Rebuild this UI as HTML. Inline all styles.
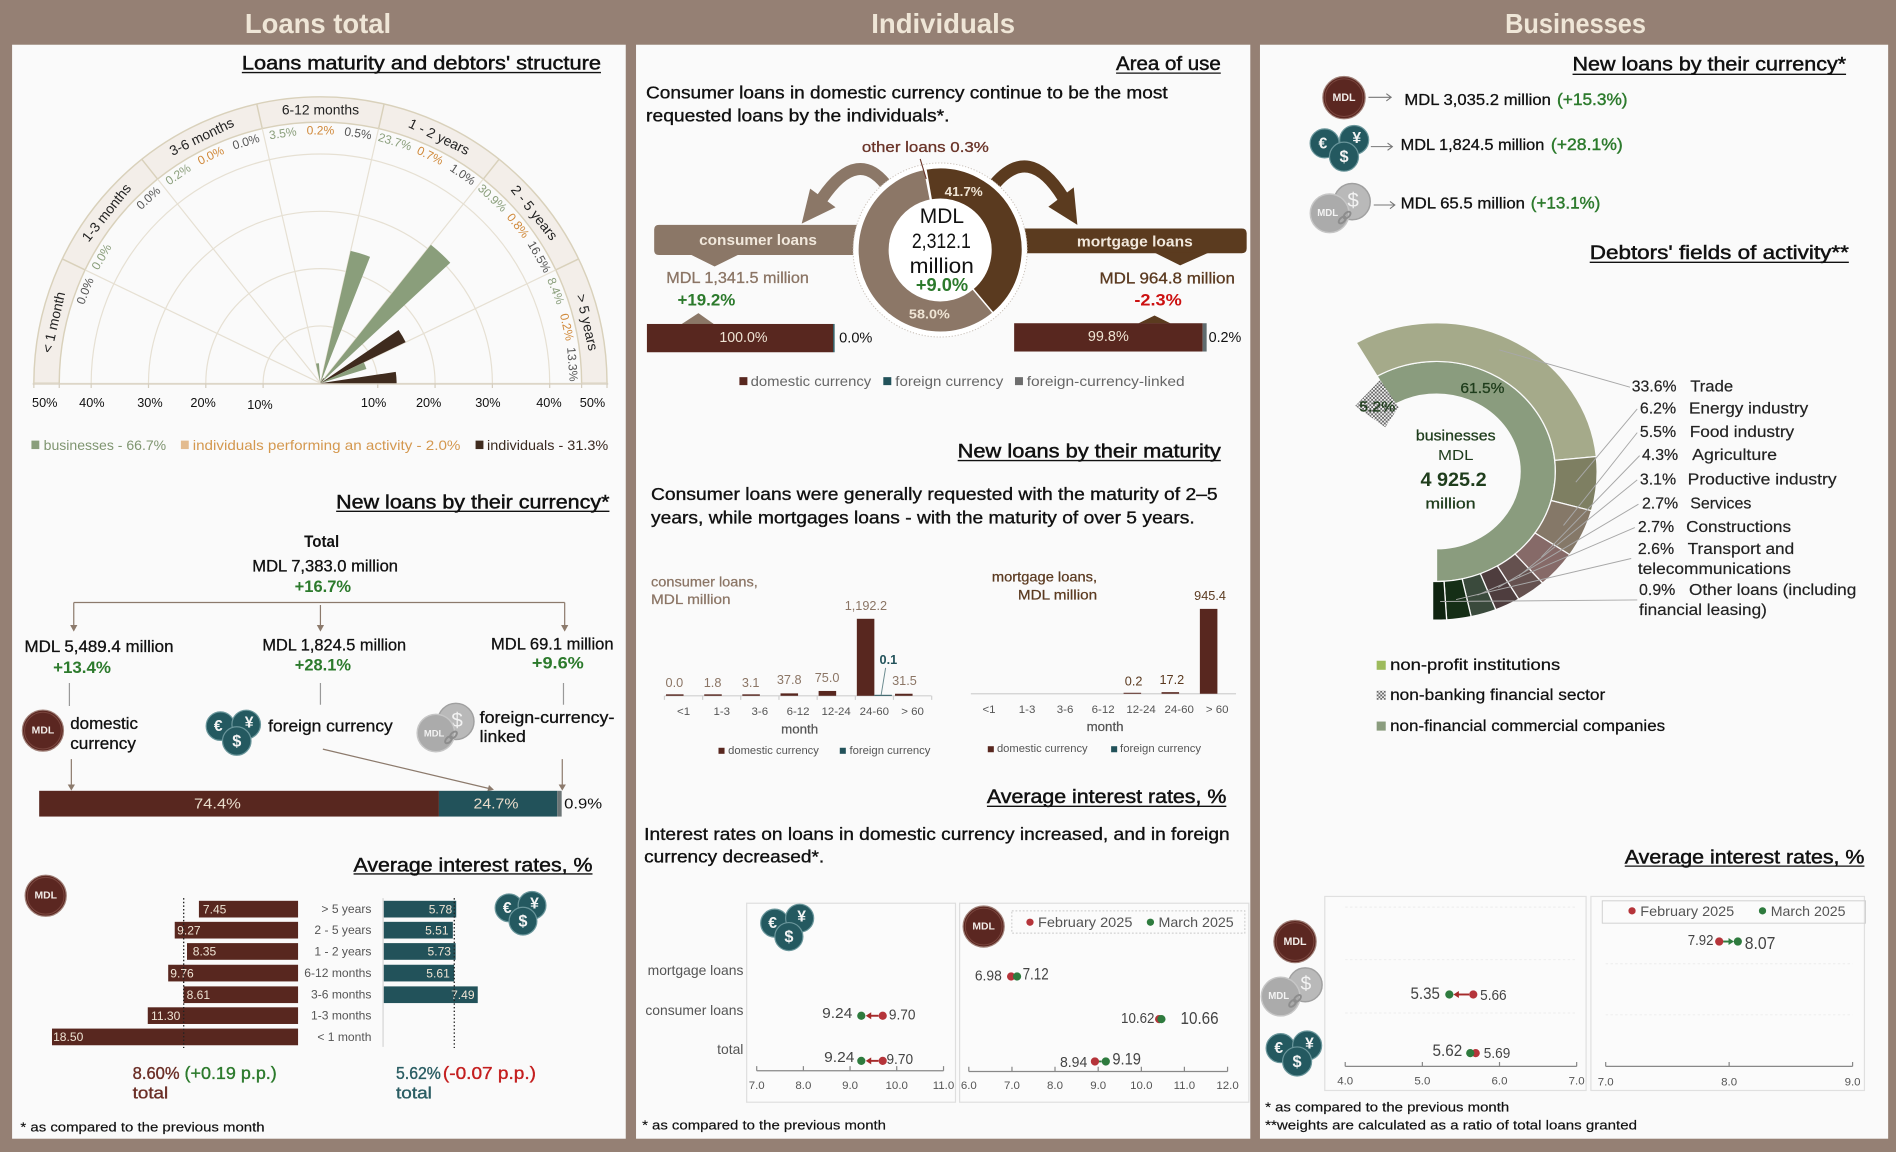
<!DOCTYPE html>
<html><head><meta charset="utf-8">
<style>
html,body{margin:0;padding:0;background:#958074;overflow:hidden}
svg{display:block}
text{font-family:"Liberation Sans",sans-serif;dominant-baseline:central}
.t{font-size:16px;fill:#111;stroke:#111;stroke-width:0.4px}
.ul{stroke:#111;stroke-width:1.1}
.p{font-size:14.5px;fill:#111;stroke:#111;stroke-width:0.3px}
</style></head><body>
<svg width="1896" height="1152" viewBox="0 0 1568 953" preserveAspectRatio="none" xmlns="http://www.w3.org/2000/svg">
<defs>
<pattern id="hatch" width="3" height="3" patternUnits="userSpaceOnUse"><rect width="3" height="3" fill="#f2f2f2"/><rect width="1.5" height="1.5" fill="#666"/><rect x="1.5" y="1.5" width="1.5" height="1.5" fill="#666"/></pattern>
</defs>
<rect width="1568" height="953" fill="#958074"/>
<rect x="10" y="37" width="507.5" height="905" fill="#fafafa"/>
<rect x="526" y="37" width="508" height="905" fill="#fafafa"/>
<rect x="1042" y="37" width="519.5" height="905" fill="#fafafa"/>

<!-- Headers -->
<text x="263" y="19.5" text-anchor="middle" font-size="23" font-weight="bold" fill="#efe6d7" textLength="121" lengthAdjust="spacingAndGlyphs">Loans total</text>
<text x="780" y="19.5" text-anchor="middle" font-size="23" font-weight="bold" fill="#efe6d7" textLength="119" lengthAdjust="spacingAndGlyphs">Individuals</text>
<text x="1303" y="19.5" text-anchor="middle" font-size="23" font-weight="bold" fill="#efe6d7" textLength="116.5" lengthAdjust="spacingAndGlyphs">Businesses</text>

<!-- Titles -->
<text class="t" x="200" y="52.5" textLength="297" lengthAdjust="spacingAndGlyphs">Loans maturity and debtors' structure</text>
<line class="ul" x1="200" y1="60" x2="497" y2="60"/>
<text class="t" x="278" y="415.5" textLength="226" lengthAdjust="spacingAndGlyphs">New loans by their currency*</text>
<line class="ul" x1="278" y1="423" x2="504" y2="423"/>
<text class="t" x="292.4" y="716" textLength="197.6" lengthAdjust="spacingAndGlyphs">Average interest rates, %</text>
<line class="ul" x1="292.4" y1="723" x2="490" y2="723"/>
<text class="t" x="923" y="53" textLength="86.6" lengthAdjust="spacingAndGlyphs">Area of use</text>
<line class="ul" x1="923" y1="60.5" x2="1009.6" y2="60.5"/>
<text class="t" x="792" y="373.5" textLength="217.6" lengthAdjust="spacingAndGlyphs">New loans by their maturity</text>
<line class="ul" x1="792" y1="381" x2="1009.6" y2="381"/>
<text class="t" x="816.2" y="659.5" textLength="198" lengthAdjust="spacingAndGlyphs">Average interest rates, %</text>
<line class="ul" x1="816.2" y1="667" x2="1014.2" y2="667"/>
<text class="t" x="1300.5" y="53.5" textLength="226.2" lengthAdjust="spacingAndGlyphs">New loans by their currency*</text>
<line class="ul" x1="1300.5" y1="61.5" x2="1526.7" y2="61.5"/>
<text class="t" x="1314.7" y="209.5" textLength="214.3" lengthAdjust="spacingAndGlyphs">Debtors' fields of activity**</text>
<line class="ul" x1="1314.7" y1="217" x2="1529" y2="217"/>
<text class="t" x="1343.7" y="709.5" textLength="198.2" lengthAdjust="spacingAndGlyphs">Average interest rates, %</text>
<line class="ul" x1="1343.7" y1="716.5" x2="1541.9" y2="716.5"/>

<!-- ============ POLAR CHART ============ -->
<path d="M28,317 A237,237 0 0 1 502,317 L481,317 A216,216 0 0 0 49,317 Z" fill="#f3eee9" stroke="#d9d1bb" stroke-width="1.2"/>
<g fill="none" stroke="#e6e0d3" stroke-width="1">
<path d="M217.6,317 A47.4,47.4 0 0 1 312.4,317"/>
<path d="M170.2,317 A94.8,94.8 0 0 1 359.8,317"/>
<path d="M122.8,317 A142.2,142.2 0 0 1 407.2,317"/>
<path d="M75.4,317 A189.6,189.6 0 0 1 454.6,317"/>
<path d="M265,317 L70.4,223.3 M265,317 L130.3,148.1 M265,317 L216.9,106.4 M265,317 L313.1,106.4 M265,317 L399.7,148.1 M265,317 L459.6,223.3"/>
</g>
<g stroke="#d9d1bb" stroke-width="1.2">
<line x1="70.4" y1="223.3" x2="51.5" y2="214.2"/>
<line x1="130.3" y1="148.1" x2="117.2" y2="131.7"/>
<line x1="216.9" y1="106.4" x2="212.3" y2="85.9"/>
<line x1="313.1" y1="106.4" x2="317.7" y2="85.9"/>
<line x1="399.7" y1="148.1" x2="412.8" y2="131.7"/>
<line x1="459.6" y1="223.3" x2="478.5" y2="214.2"/>
</g>
<line x1="27" y1="317.5" x2="503" y2="317.5" stroke="#ddd6c8" stroke-width="1.5"/>
<g stroke="#d5cebf" stroke-width="1">
<path d="M28,317 V321 M49,317 V321 M75.4,317 V321 M122.8,317 V321 M170.2,317 V321 M217.6,317 V321 M312.4,317 V321 M359.8,317 V321 M407.2,317 V321 M454.6,317 V321 M481,317 V321 M502,317 V321"/>
</g>
<path d="M265,317 L261.31,300.82 A16.6,16.6 0 0 1 263.76,300.45 Z" fill="#8a9e7b"/>
<path d="M265,317 L289.99,207.52 A112.3,112.3 0 0 1 306.02,212.46 Z" fill="#8a9e7b"/>
<path d="M265,317 L356.34,202.47 A146.5,146.5 0 0 1 372.38,217.35 Z" fill="#8a9e7b"/>
<path d="M265,317 L329.61,272.95 A78.2,78.2 0 0 1 335.46,283.07 Z" fill="#3f2b1e"/>
<path d="M265,317 L300.86,299.73 A39.8,39.8 0 0 1 303.03,305.27 Z" fill="#8a9e7b"/>
<path d="M265,317 L327.29,307.61 A63,63 0 0 1 328,317 Z" fill="#3f2b1e"/>
<path d="M265,317 L267.37,312.9 A4.74,4.74 0 0 1 267.96,313.29 Z" fill="#3f2b1e"/>

<g font-size="11.5" fill="#222" text-anchor="middle">
<text transform="translate(44.2,266.6) rotate(-77.14)">&lt; 1 month</text>
<text transform="translate(87.9,175.8) rotate(-51.43)">1-3 months</text>
<text transform="translate(166.7,112.9) rotate(-25.71)">3-6 months</text>
<text transform="translate(265,90.5)">6-12 months</text>
<text transform="translate(363.3,112.9) rotate(25.71)">1 - 2 years</text>
<text transform="translate(442.1,175.8) rotate(51.43)">2 - 5 years</text>
<text transform="translate(485.8,266.6) rotate(77.14)">&gt; 5 years</text>
</g>
<g font-size="10" text-anchor="middle">
<text transform="translate(70.4,240.7) rotate(-68.57)" fill="#555">0.0%</text>
<text transform="translate(84,212.5) rotate(-60)" fill="#8a9e7b">0.0%</text>
<text transform="translate(122.8,163.8) rotate(-42.86)" fill="#555">0.0%</text>
<text transform="translate(147.3,144.3) rotate(-34.29)" fill="#8a9e7b">0.2%</text>
<text transform="translate(174.3,128.7) rotate(-25.71)" fill="#d0893a">0.0%</text>
<text transform="translate(203.4,117.3) rotate(-17.14)" fill="#555">0.0%</text>
<text transform="translate(233.9,110.3) rotate(-8.57)" fill="#8a9e7b">3.5%</text>
<text transform="translate(265,108)" fill="#d0893a">0.2%</text>
<text transform="translate(296.1,110.3) rotate(8.57)" fill="#555">0.5%</text>
<text transform="translate(326.6,117.3) rotate(17.14)" fill="#8a9e7b">23.7%</text>
<text transform="translate(355.7,128.7) rotate(25.71)" fill="#d0893a">0.7%</text>
<text transform="translate(382.7,144.3) rotate(34.29)" fill="#555">1.0%</text>
<text transform="translate(407.2,163.8) rotate(42.86)" fill="#8a9e7b">30.9%</text>
<text transform="translate(428.4,186.7) rotate(51.43)" fill="#d0893a">0.8%</text>
<text transform="translate(446,212.5) rotate(60)" fill="#555">16.5%</text>
<text transform="translate(459.6,240.7) rotate(68.57)" fill="#8a9e7b">8.4%</text>
<text transform="translate(468.8,270.5) rotate(77.14)" fill="#d0893a">0.2%</text>
<text transform="translate(473.4,301.4) rotate(85.71)" fill="#555">13.3%</text>
</g>
<g font-size="10.5" fill="#111" text-anchor="middle">
<text x="37" y="333.5">50%</text><text x="76" y="333.5">40%</text><text x="124" y="333.5">30%</text><text x="168" y="333.5">20%</text><text x="215" y="335">10%</text>
<text x="309" y="333.5">10%</text><text x="354.5" y="333.5">20%</text><text x="403.5" y="333.5">30%</text><text x="454" y="333.5">40%</text><text x="490" y="333.5">50%</text>
</g>
<rect x="26" y="364.5" width="6.5" height="7" fill="#8a9e7b"/>
<text x="36.1" y="368" font-size="11.5" fill="#7f9570" textLength="101.3" lengthAdjust="spacingAndGlyphs">businesses - 66.7%</text>
<rect x="149.6" y="364.5" width="6.5" height="7" fill="#e3bb8e"/>
<text x="159.4" y="368" font-size="11.5" fill="#d4984f" textLength="221.4" lengthAdjust="spacingAndGlyphs">individuals performing an activity - 2.0%</text>
<rect x="393.3" y="364.5" width="6.5" height="7" fill="#3f2b1e"/>
<text x="402.8" y="368" font-size="11.5" fill="#3b2a20" textLength="100.2" lengthAdjust="spacingAndGlyphs">individuals - 31.3%</text>

<!-- ============ LEFT: NEW LOANS BY CURRENCY ============ -->
<text x="266" y="448.5" text-anchor="middle" font-size="13.5" font-weight="bold" fill="#111" textLength="29" lengthAdjust="spacingAndGlyphs">Total</text>
<text x="268.9" y="468.7" text-anchor="middle" font-size="13.5" fill="#111" stroke="#111" stroke-width="0.25" textLength="120.5" lengthAdjust="spacingAndGlyphs">MDL 7,383.0 million</text>
<text x="267" y="485.2" text-anchor="middle" font-size="14" font-weight="bold" fill="#2c7a2c" textLength="46.6" lengthAdjust="spacingAndGlyphs">+16.7%</text>
<g stroke="#8c7a6c" stroke-width="1" fill="none">
<path d="M61,498.4 H467 M61,498.4 V518 M265,500.5 V518 M467,498.4 V518"/>
</g>
<g fill="#8c7a6c">
<polygon points="58,517 64,517 61,522.5"/><polygon points="262,517 268,517 265,522.5"/><polygon points="464,517 470,517 467,522.5"/>
</g>
<text x="20.3" y="535.4" font-size="13.5" fill="#111" stroke="#111" stroke-width="0.25" textLength="123.2" lengthAdjust="spacingAndGlyphs">MDL 5,489.4 million</text>
<text x="43.9" y="552" font-size="14" font-weight="bold" fill="#2c7a2c" textLength="47.9" lengthAdjust="spacingAndGlyphs">+13.4%</text>
<text x="217" y="534" font-size="13.5" fill="#111" stroke="#111" stroke-width="0.25" textLength="118.9" lengthAdjust="spacingAndGlyphs">MDL 1,824.5 million</text>
<text x="243.8" y="550" font-size="14" font-weight="bold" fill="#2c7a2c" textLength="46.5" lengthAdjust="spacingAndGlyphs">+28.1%</text>
<text x="406.1" y="533" font-size="13.5" fill="#111" stroke="#111" stroke-width="0.25" textLength="101.3" lengthAdjust="spacingAndGlyphs">MDL 69.1 million</text>
<text x="439.9" y="548.6" font-size="14" font-weight="bold" fill="#2c7a2c" textLength="42.9" lengthAdjust="spacingAndGlyphs">+9.6%</text>
<g stroke="#999" stroke-width="1"><path d="M57.4,565 V584 M265,565 V583 M466,565 V583"/></g>
<!-- MDL coin -->
<circle cx="35.5" cy="604.4" r="17" fill="#5b2721" stroke="#a08078" stroke-width="1"/>
<circle cx="35.5" cy="604.4" r="15.2" fill="none" stroke="#7a463e" stroke-width="0.8"/>
<text x="35.5" y="604.6" text-anchor="middle" font-size="8.6" font-weight="bold" fill="#f2ece8">MDL</text>
<text x="58.1" y="598.8" font-size="13.5" fill="#111" stroke="#111" stroke-width="0.25" textLength="56" lengthAdjust="spacingAndGlyphs">domestic</text>
<text x="58.1" y="615.4" font-size="13.5" fill="#111" stroke="#111" stroke-width="0.25" textLength="54.3" lengthAdjust="spacingAndGlyphs">currency</text>
<!-- FC coins -->
<g font-weight="bold" fill="#f4f4f4" text-anchor="middle">
<circle cx="182.3" cy="600.7" r="11.8" fill="#245960" stroke="#6a969b" stroke-width="1"/>
<circle cx="203.6" cy="599.3" r="11.8" fill="#245960" stroke="#6a969b" stroke-width="1"/>
<circle cx="195.8" cy="613" r="11.8" fill="#245960" stroke="#6a969b" stroke-width="1"/>
<text x="180.5" y="601" font-size="13">€</text><text x="206" y="598" font-size="13">¥</text><text x="195.8" y="613.5" font-size="13.5">$</text>
</g>
<text x="221.8" y="600.9" font-size="13.5" fill="#111" stroke="#111" stroke-width="0.25" textLength="103" lengthAdjust="spacingAndGlyphs">foreign currency</text>
<!-- FCL coins -->
<circle cx="377" cy="596.8" r="15" fill="#b9b9b9" stroke="#a0a0a0" stroke-width="1.2"/>
<text x="378" y="596" text-anchor="middle" font-size="17" fill="#f3f3f3">$</text>
<circle cx="360.5" cy="606.4" r="15.5" fill="#ababab" stroke="#c6c6c6" stroke-width="1.2"/>
<text x="359" y="606.4" text-anchor="middle" font-size="7.8" font-weight="bold" fill="#f3f3f3">MDL</text>
<g fill="none" stroke="#8d8d8d" stroke-width="1.6"><ellipse cx="371" cy="612" rx="3.5" ry="2" transform="rotate(-45 371 612)"/><ellipse cx="375" cy="608" rx="3.5" ry="2" transform="rotate(-45 375 608)"/></g>
<text x="396.7" y="594" font-size="13.5" fill="#111" stroke="#111" stroke-width="0.25" textLength="111.4" lengthAdjust="spacingAndGlyphs">foreign-currency-</text>
<text x="396.7" y="609.8" font-size="13.5" fill="#111" stroke="#111" stroke-width="0.25" textLength="38.1" lengthAdjust="spacingAndGlyphs">linked</text>
<g stroke="#8c7a6c" stroke-width="1" fill="none"><path d="M59,628 V650 M267,619.7 L404,652.2 M465,628 V650"/></g>
<g fill="#8c7a6c"><polygon points="56,649 62,649 59,654"/><polygon points="403,654.6 404.4,649.4 408.5,653.3"/><polygon points="462,649 468,649 465,654"/></g>
<rect x="32.4" y="654.2" width="330.6" height="21.3" fill="#58271f"/>
<rect x="363" y="654.2" width="97.8" height="21.3" fill="#22525a"/>
<rect x="460.8" y="654.2" width="3.7" height="21.3" fill="#6b7576"/>
<text x="179.8" y="665" text-anchor="middle" font-size="12.5" fill="#e9dccb" textLength="38.8" lengthAdjust="spacingAndGlyphs">74.4%</text>
<text x="410.2" y="665" text-anchor="middle" font-size="12.5" fill="#e9dccb" textLength="37.2" lengthAdjust="spacingAndGlyphs">24.7%</text>
<text x="466.5" y="665" font-size="12.5" fill="#111" textLength="31.5" lengthAdjust="spacingAndGlyphs">0.9%</text>

<!-- ============ LEFT: INTEREST RATES ============ -->
<circle cx="37.8" cy="741" r="17" fill="#5b2721" stroke="#a08078" stroke-width="1"/>
<circle cx="37.8" cy="741" r="15.2" fill="none" stroke="#7a463e" stroke-width="0.8"/>
<text x="37.8" y="741.2" text-anchor="middle" font-size="8.6" font-weight="bold" fill="#f2ece8">MDL</text>
<g fill="#58271f">
<rect x="164.5" y="745.2" width="82" height="13.8"/>
<rect x="144.5" y="762.6" width="102" height="13.8"/>
<rect x="154.65" y="780.2" width="91.85" height="13.8"/>
<rect x="139.1" y="798.1" width="107.4" height="13.8"/>
<rect x="151.8" y="816" width="94.7" height="13.8"/>
<rect x="122.2" y="833.3" width="124.3" height="13.8"/>
<rect x="43" y="850.9" width="203.5" height="13.8"/>
</g>
<g font-size="10" fill="#efe4d4">
<text x="167.8" y="752.3">7.45</text><text x="146.5" y="769.7">9.27</text><text x="159.4" y="787.3">8.35</text><text x="140.8" y="805.2">9.76</text><text x="154.3" y="823.1">8.61</text><text x="124.9" y="840.4">11.30</text><text x="43.9" y="858">18.50</text>
</g>
<g font-size="10" fill="#555" text-anchor="end">
<text x="307.2" y="752.1">&gt; 5 years</text><text x="307.2" y="769.5">2 - 5 years</text><text x="307.2" y="787.1">1 - 2 years</text><text x="307.2" y="805">6-12 months</text><text x="307.2" y="822.9">3-6 months</text><text x="307.2" y="840.2">1-3 months</text><text x="307.2" y="857.8">&lt; 1 month</text>
</g>
<line x1="316.8" y1="743" x2="316.8" y2="866" stroke="#d5d5d5" stroke-width="1"/>
<g fill="#22525a">
<rect x="317.4" y="745.2" width="59.9" height="13.8"/>
<rect x="317.4" y="762.6" width="57.1" height="13.8"/>
<rect x="317.4" y="780.2" width="59.4" height="13.8"/>
<rect x="317.4" y="798.1" width="58.2" height="13.8"/>
<rect x="317.4" y="816" width="77.7" height="13.8"/>
</g>
<g font-size="10" fill="#efe4d4" text-anchor="end">
<text x="374" y="752.3">5.78</text><text x="371" y="769.7">5.51</text><text x="373" y="787.3">5.73</text><text x="372" y="805.2">5.61</text><text x="392.5" y="823.1">7.49</text>
</g>
<line x1="151.9" y1="743" x2="151.9" y2="867" stroke="#222" stroke-width="1.1" stroke-dasharray="1.2 1.8"/>
<line x1="375.7" y1="743" x2="375.7" y2="867" stroke="#222" stroke-width="1.1" stroke-dasharray="1.2 1.8"/>
<g font-weight="bold" fill="#f4f4f4" text-anchor="middle">
<circle cx="421" cy="751" r="11.5" fill="#245960" stroke="#6a969b" stroke-width="1"/>
<circle cx="440" cy="749" r="11.5" fill="#245960" stroke="#6a969b" stroke-width="1"/>
<circle cx="432.5" cy="762" r="11.5" fill="#245960" stroke="#6a969b" stroke-width="1"/>
<text x="419.5" y="751.5" font-size="13">€</text><text x="442" y="748" font-size="13">¥</text><text x="432.5" y="762.5" font-size="13.5">$</text>
</g>
<text x="109.7" y="887.7" font-size="14.5" fill="#6b2e26" stroke="#6b2e26" stroke-width="0.3" textLength="38.8" lengthAdjust="spacingAndGlyphs">8.60%</text>
<text x="152.6" y="887.7" font-size="14.5" fill="#2c7a2c" stroke="#2c7a2c" stroke-width="0.3" textLength="76.3" lengthAdjust="spacingAndGlyphs">(+0.19 p.p.)</text>
<text x="109.7" y="904.3" font-size="14" fill="#6b2e26" stroke="#6b2e26" stroke-width="0.3" textLength="29.4" lengthAdjust="spacingAndGlyphs">total</text>
<text x="327.5" y="887.7" font-size="14.5" fill="#2a5d63" stroke="#2a5d63" stroke-width="0.3" textLength="37.1" lengthAdjust="spacingAndGlyphs">5.62%</text>
<text x="366.3" y="887.7" font-size="14.5" fill="#c41e1e" stroke="#c41e1e" stroke-width="0.3" textLength="77" lengthAdjust="spacingAndGlyphs">(-0.07 p.p.)</text>
<text x="327.5" y="904.3" font-size="14" fill="#2a5d63" stroke="#2a5d63" stroke-width="0.3" textLength="29.7" lengthAdjust="spacingAndGlyphs">total</text>
<text x="16.9" y="932.4" font-size="11" fill="#111" stroke="#111" stroke-width="0.15" textLength="201.9" lengthAdjust="spacingAndGlyphs">* as compared to the previous month</text>

<!-- ============ MIDDLE: AREA OF USE ============ -->
<text class="p" x="534.3" y="76.4" textLength="431.4" lengthAdjust="spacingAndGlyphs">Consumer loans in domestic currency continue to be the most</text>
<text class="p" x="534.3" y="95.7" textLength="251" lengthAdjust="spacingAndGlyphs">requested loans by the individuals*.</text>
<text x="765.3" y="122" text-anchor="middle" font-size="12.5" fill="#6a3428" stroke="#6a3428" stroke-width="0.25" textLength="105" lengthAdjust="spacingAndGlyphs">other loans 0.3%</text>
<!-- boxes -->
<path d="M545,186 H720 V211 H545 Q541,211 541,207 V190 Q541,186 545,186 Z" fill="#8b7767"/>
<polygon points="571,210.5 611,210.5 591,220.5" fill="#8b7767"/>
<path d="M840,189 H1027 Q1031,189 1031,193 V205.5 Q1031,209.5 1027,209.5 H840 Z" fill="#5b3b1f"/>
<polygon points="954.8,209 999.6,209 976,219.5" fill="#5b3b1f"/>
<!-- arrows -->
<path d="M735,156 Q710,120 680,164" fill="none" stroke="#8b7767" stroke-width="10"/>
<polygon points="670,156 691,171.5 663,185" fill="#8b7767"/>
<path d="M822,153 Q851,118 879,163" fill="none" stroke="#5b3b1f" stroke-width="10"/>
<polygon points="888,155 867,171 891,186" fill="#5b3b1f"/>
<!-- donut -->
<circle cx="777.5" cy="206.8" r="72" fill="#fff" stroke="#c9c0b8" stroke-width="0.8" stroke-dasharray="1 1.5"/>
<path d="M765.69,139.83 A68,68 0 0 1 821.21,258.89 L804.5,238.97 A42,42 0 0 0 770.21,165.44 Z" fill="#5a3a1f" stroke="#fff" stroke-width="1.2"/>
<path d="M821.21,258.89 A68,68 0 1 1 764.52,140.05 L769.49,165.57 A42,42 0 1 0 804.5,238.97 Z" fill="#8c7767" stroke="#fff" stroke-width="1.2"/>
<line x1="761" y1="131.5" x2="766" y2="148" stroke="#6a3428" stroke-width="0.9"/>
<text x="797" y="158.5" text-anchor="middle" font-size="11" font-weight="bold" fill="#efe4d4" textLength="31.5" lengthAdjust="spacingAndGlyphs">41.7%</text>
<text x="768.6" y="259.7" text-anchor="middle" font-size="11" font-weight="bold" fill="#efe4d4" textLength="33.8" lengthAdjust="spacingAndGlyphs">58.0%</text>
<text x="779" y="179.2" text-anchor="middle" font-size="17.5" fill="#111" textLength="36.6" lengthAdjust="spacingAndGlyphs">MDL</text>
<text x="778.5" y="199.9" text-anchor="middle" font-size="17.5" fill="#111" textLength="48.8" lengthAdjust="spacingAndGlyphs">2,312.1</text>
<text x="778.8" y="220.6" text-anchor="middle" font-size="17.5" fill="#111" textLength="53.1" lengthAdjust="spacingAndGlyphs">million</text>
<text x="779" y="235.7" text-anchor="middle" font-size="15" font-weight="bold" fill="#2c7a2c" textLength="43.2" lengthAdjust="spacingAndGlyphs">+9.0%</text>
<text x="626.9" y="199.1" text-anchor="middle" font-size="12.5" font-weight="bold" fill="#f1e8dc" textLength="97.4" lengthAdjust="spacingAndGlyphs">consumer loans</text>
<text x="938.5" y="200.4" text-anchor="middle" font-size="12.5" font-weight="bold" fill="#f1e8dc" textLength="95.8" lengthAdjust="spacingAndGlyphs">mortgage loans</text>
<text x="551" y="230.2" font-size="13" fill="#8b7565" stroke="#8b7565" stroke-width="0.25" textLength="118" lengthAdjust="spacingAndGlyphs">MDL 1,341.5 million</text>
<text x="560.3" y="248.1" font-size="14" font-weight="bold" fill="#2c7a2c" textLength="47.8" lengthAdjust="spacingAndGlyphs">+19.2%</text>
<text x="909.3" y="231" font-size="13" fill="#5b3a20" stroke="#5b3a20" stroke-width="0.25" textLength="112" lengthAdjust="spacingAndGlyphs">MDL 964.8 million</text>
<text x="938.1" y="248" font-size="14" font-weight="bold" fill="#cc1111" textLength="39.2" lengthAdjust="spacingAndGlyphs">-2.3%</text>
<polygon points="563,268.5 591,268.5 577.6,259" fill="#8b7767"/>
<polygon points="941.5,267.5 968,267.5 954.8,261" fill="#5b3b1f"/>
<rect x="535" y="268" width="154" height="23.4" fill="#58271f"/>
<rect x="689" y="268" width="1.2" height="23.4" fill="#22525a"/>
<text x="614.8" y="279.5" text-anchor="middle" font-size="12" fill="#efe4d4" textLength="39.8" lengthAdjust="spacingAndGlyphs">100.0%</text>
<text x="694" y="280" font-size="12" fill="#111" textLength="27.5" lengthAdjust="spacingAndGlyphs">0.0%</text>
<rect x="838.7" y="267.4" width="155.9" height="23.4" fill="#58271f"/>
<rect x="994.6" y="267.4" width="3.3" height="23.4" fill="#5f6b6e"/>
<text x="916.6" y="279" text-anchor="middle" font-size="12" fill="#efe4d4" textLength="33.8" lengthAdjust="spacingAndGlyphs">99.8%</text>
<text x="999.5" y="279.5" font-size="12" fill="#111" textLength="27.1" lengthAdjust="spacingAndGlyphs">0.2%</text>
<rect x="611.5" y="312" width="6.6" height="6.6" fill="#58271f"/>
<text x="620.8" y="315.3" font-size="11.5" fill="#666" textLength="99.7" lengthAdjust="spacingAndGlyphs">domestic currency</text>
<rect x="730.5" y="312" width="6.6" height="6.6" fill="#22525a"/>
<text x="740.4" y="315.3" font-size="11.5" fill="#666" textLength="89.3" lengthAdjust="spacingAndGlyphs">foreign currency</text>
<rect x="839.4" y="312" width="6.6" height="6.6" fill="#6d6d6d"/>
<text x="849.1" y="315.3" font-size="11.5" fill="#666" textLength="130.6" lengthAdjust="spacingAndGlyphs">foreign-currency-linked</text>

<!-- ============ MIDDLE: MATURITY ============ -->
<text class="p" x="538.4" y="408.6" textLength="468.6" lengthAdjust="spacingAndGlyphs">Consumer loans were generally requested with the maturity of 2–5</text>
<text class="p" x="538.4" y="428" textLength="449.6" lengthAdjust="spacingAndGlyphs">years, while mortgages loans - with the maturity of over 5 years.</text>
<text x="538.4" y="481.1" font-size="11.5" fill="#8b7565" stroke="#8b7565" stroke-width="0.2" textLength="88.3" lengthAdjust="spacingAndGlyphs">consumer loans,</text>
<text x="538.4" y="495.7" font-size="11.5" fill="#8b7565" stroke="#8b7565" stroke-width="0.2" textLength="65.8" lengthAdjust="spacingAndGlyphs">MDL million</text>
<line x1="550" y1="575.6" x2="770.3" y2="575.6" stroke="#d0d0d0" stroke-width="1"/>
<path d="M549.5,575.6 V579 M581.1,575.6 V579 M612.6,575.6 V579 M644.2,575.6 V579 M675.8,575.6 V579 M707.4,575.6 V579 M738.9,575.6 V579 M770.5,575.6 V579" stroke="#d0d0d0" stroke-width="1"/>
<g fill="#58271f">
<rect x="550.8" y="574.4" width="14.5" height="1.2"/>
<rect x="582.4" y="574.4" width="14.5" height="1.2"/>
<rect x="613.9" y="574.4" width="14.5" height="1.2"/>
<rect x="645.5" y="573.6" width="14.5" height="2"/>
<rect x="677" y="571.6" width="14.5" height="4"/>
<rect x="708.6" y="511.9" width="14.5" height="63.7"/>
<rect x="740.2" y="573.9" width="14.5" height="1.7"/>
</g>
<rect x="723.1" y="574.8" width="14.5" height="0.8" fill="#22525a"/>
<line x1="732.4" y1="552.5" x2="728.7" y2="575" stroke="#6a8a8e" stroke-width="0.8"/>
<g font-size="10.5" fill="#8b7565" text-anchor="middle">
<text x="557.7" y="565.2">0.0</text><text x="589.3" y="565.2">1.8</text><text x="620.8" y="565.2">3.1</text><text x="652.7" y="562.4">37.8</text><text x="684" y="561">75.0</text><text x="716.1" y="501.2">1,192.2</text><text x="748" y="563.3">31.5</text>
</g>
<text x="734.7" y="545.9" text-anchor="middle" font-size="10.5" fill="#22525a" font-weight="bold">0.1</text>
<g font-size="9.5" fill="#555" text-anchor="middle">
<text x="565.3" y="588.9">&lt;1</text><text x="596.9" y="588.9">1-3</text><text x="628.4" y="588.9">3-6</text><text x="660" y="588.9">6-12</text><text x="691.5" y="588.9">12-24</text><text x="723.1" y="588.9">24-60</text><text x="754.7" y="588.9">&gt; 60</text>
</g>
<text x="661.3" y="603.2" text-anchor="middle" font-size="11" fill="#555" stroke="#555" stroke-width="0.2">month</text>
<rect x="594.2" y="618.6" width="5" height="5" fill="#58271f"/>
<text x="602.2" y="621.2" font-size="9.5" fill="#555" textLength="75" lengthAdjust="spacingAndGlyphs">domestic currency</text>
<rect x="694.5" y="618.6" width="5" height="5" fill="#22525a"/>
<text x="702.5" y="621.2" font-size="9.5" fill="#555" textLength="67" lengthAdjust="spacingAndGlyphs">foreign currency</text>

<text x="907.3" y="476.9" text-anchor="end" font-size="11.5" fill="#5b3a20" stroke="#5b3a20" stroke-width="0.2" textLength="87" lengthAdjust="spacingAndGlyphs">mortgage loans,</text>
<text x="907.3" y="492" text-anchor="end" font-size="11.5" fill="#5b3a20" stroke="#5b3a20" stroke-width="0.2" textLength="65.5" lengthAdjust="spacingAndGlyphs">MDL million</text>
<line x1="802.9" y1="573.9" x2="1022.2" y2="573.9" stroke="#d0d0d0" stroke-width="1"/>
<g fill="#58271f">
<rect x="929.2" y="573.1" width="14.5" height="0.8"/>
<rect x="960.6" y="572.6" width="14.5" height="1.3"/>
<rect x="992.3" y="503.7" width="14.5" height="70.2"/>
</g>
<g font-size="10.5" fill="#5b3a20" text-anchor="middle">
<text x="1000.7" y="493">945.4</text><text x="937.5" y="563.8">0.2</text><text x="969.1" y="562.4">17.2</text>
</g>
<g font-size="9.5" fill="#555" text-anchor="middle">
<text x="817.9" y="587.3">&lt;1</text><text x="849.4" y="587.3">1-3</text><text x="880.8" y="587.3">3-6</text><text x="912.3" y="587.3">6-12</text><text x="943.7" y="587.3">12-24</text><text x="975.2" y="587.3">24-60</text><text x="1006.6" y="587.3">&gt; 60</text>
</g>
<text x="913.9" y="601" text-anchor="middle" font-size="11" fill="#555" stroke="#555" stroke-width="0.2">month</text>
<rect x="816.9" y="617.3" width="5" height="5" fill="#58271f"/>
<text x="824.5" y="619.8" font-size="9.5" fill="#555" textLength="75" lengthAdjust="spacingAndGlyphs">domestic currency</text>
<rect x="918.9" y="617.3" width="5" height="5" fill="#22525a"/>
<text x="926.3" y="619.8" font-size="9.5" fill="#555" textLength="67" lengthAdjust="spacingAndGlyphs">foreign currency</text>

<!-- ============ MIDDLE: INTEREST RATES ============ -->
<text class="p" x="532.7" y="689.8" textLength="484.2" lengthAdjust="spacingAndGlyphs">Interest rates on loans in domestic currency increased, and in foreign</text>
<text class="p" x="532.7" y="708.6" textLength="148.9" lengthAdjust="spacingAndGlyphs">currency decreased*.</text>
<rect x="617.5" y="747.2" width="172.7" height="164.6" fill="#fbfbfb" stroke="#dedede" stroke-width="1"/>
<rect x="793.6" y="747.2" width="239.2" height="164.6" fill="#fbfbfb" stroke="#dedede" stroke-width="1"/>
<g font-weight="bold" fill="#f4f4f4" text-anchor="middle">
<circle cx="640.7" cy="763.7" r="11.6" fill="#245960" stroke="#6a969b" stroke-width="1"/>
<circle cx="661.3" cy="759.6" r="11.6" fill="#245960" stroke="#6a969b" stroke-width="1"/>
<circle cx="652.4" cy="774.8" r="11.6" fill="#245960" stroke="#6a969b" stroke-width="1"/>
<text x="639" y="764" font-size="13">€</text><text x="663" y="758.5" font-size="13">¥</text><text x="652.4" y="775.3" font-size="13.5">$</text>
</g>
<g font-size="11.5" fill="#555" text-anchor="end">
<text x="614.8" y="802.3">mortgage loans</text><text x="614.8" y="835.4">consumer loans</text><text x="614.8" y="867.9">total</text>
</g>
<line x1="625.8" y1="885.8" x2="780.3" y2="885.8" stroke="#888" stroke-width="1"/>
<path d="M625.8,885.8 V882 M664.4,885.8 V882 M703,885.8 V882 M741.6,885.8 V882 M780.3,885.8 V882" stroke="#888" stroke-width="1"/>
<g font-size="9.5" fill="#555" text-anchor="middle">
<text x="625.8" y="898.2">7.0</text><text x="664.4" y="898.2">8.0</text><text x="703" y="898.2">9.0</text><text x="741.6" y="898.2">10.0</text><text x="780.3" y="898.2">11.0</text>
</g>
<line x1="726.5" y1="840.3" x2="719" y2="840.3" stroke="#a52a2a" stroke-width="1.6"/>
<polygon points="716,840.3 720.5,837.4 720.5,843.2" fill="#a52a2a"/>
<line x1="726.5" y1="877.6" x2="719" y2="877.6" stroke="#a52a2a" stroke-width="1.6"/>
<polygon points="716,877.6 720.5,874.7 720.5,880.5" fill="#a52a2a"/>
<circle cx="712.3" cy="840.3" r="3.4" fill="#2e7b3e"/><circle cx="730" cy="840.3" r="3.4" fill="#b5343a"/>
<circle cx="712.3" cy="877.6" r="3.4" fill="#2e7b3e"/><circle cx="730" cy="877.6" r="3.4" fill="#b5343a"/>
<g font-size="12" fill="#444">
<text x="679.9" y="838.9" textLength="25" lengthAdjust="spacingAndGlyphs">9.24</text><text x="735.1" y="840" textLength="22" lengthAdjust="spacingAndGlyphs">9.70</text>
<text x="681.6" y="875.3" textLength="25" lengthAdjust="spacingAndGlyphs">9.24</text><text x="733.1" y="877" textLength="22" lengthAdjust="spacingAndGlyphs">9.70</text>
</g>
<circle cx="813.5" cy="766.5" r="17" fill="#5b2721" stroke="#a08078" stroke-width="1"/>
<circle cx="813.5" cy="766.5" r="15.2" fill="none" stroke="#7a463e" stroke-width="0.8"/>
<text x="813.5" y="766.7" text-anchor="middle" font-size="8.6" font-weight="bold" fill="#f2ece8">MDL</text>
<rect x="836.8" y="753.5" width="192.7" height="18.4" fill="none" stroke="#c8c8c8" stroke-width="0.8" stroke-dasharray="1.5 1.5"/>
<circle cx="851.8" cy="762.9" r="3" fill="#b5343a"/>
<text x="858.4" y="762.9" font-size="11.5" fill="#555" textLength="78.1" lengthAdjust="spacingAndGlyphs">February 2025</text>
<circle cx="951.4" cy="762.9" r="3" fill="#2e7b3e"/>
<text x="958.1" y="762.9" font-size="11.5" fill="#555" textLength="62.2" lengthAdjust="spacingAndGlyphs">March 2025</text>
<line x1="801.2" y1="886.4" x2="1015.2" y2="886.4" stroke="#888" stroke-width="1"/>
<path d="M801.2,886.4 V882.5 M836.9,886.4 V882.5 M872.5,886.4 V882.5 M908.2,886.4 V882.5 M943.9,886.4 V882.5 M979.5,886.4 V882.5 M1015.2,886.4 V882.5" stroke="#888" stroke-width="1"/>
<g font-size="9.5" fill="#555" text-anchor="middle">
<text x="801.2" y="898.5">6.0</text><text x="836.9" y="898.5">7.0</text><text x="872.5" y="898.5">8.0</text><text x="908.2" y="898.5">9.0</text><text x="943.9" y="898.5">10.0</text><text x="979.5" y="898.5">11.0</text><text x="1015.2" y="898.5">12.0</text>
</g>
<line x1="907.5" y1="878.1" x2="911" y2="878.1" stroke="#2e7b3e" stroke-width="1.5"/>
<circle cx="836.2" cy="807.8" r="3.4" fill="#b5343a"/><circle cx="841.1" cy="807.8" r="3.4" fill="#2e7b3e"/>
<circle cx="958.6" cy="843.1" r="3.4" fill="#b5343a"/><circle cx="960.5" cy="843.1" r="3.4" fill="#2e7b3e"/>
<circle cx="905.5" cy="878.1" r="3.4" fill="#b5343a"/><circle cx="914.5" cy="878.1" r="3.4" fill="#2e7b3e"/>
<g font-size="12" fill="#444">
<text x="806.2" y="808" textLength="22.3" lengthAdjust="spacingAndGlyphs">6.98</text><text x="845.7" y="806" font-size="13.5" textLength="21.6" lengthAdjust="spacingAndGlyphs">7.12</text>
<text x="927.1" y="843" textLength="27.6" lengthAdjust="spacingAndGlyphs">10.62</text><text x="976.3" y="842" font-size="14.5" textLength="31.5" lengthAdjust="spacingAndGlyphs">10.66</text>
<text x="876.6" y="879.5" textLength="22.6" lengthAdjust="spacingAndGlyphs">8.94</text><text x="919.9" y="876.5" font-size="13.5" textLength="23.7" lengthAdjust="spacingAndGlyphs">9.19</text>
</g>
<text x="531" y="930.5" font-size="11" fill="#111" stroke="#111" stroke-width="0.15" textLength="201.7" lengthAdjust="spacingAndGlyphs">* as compared to the previous month</text>

<!-- ============ RIGHT: NEW LOANS BY CURRENCY ============ -->
<circle cx="1111.5" cy="80.8" r="17.5" fill="#5b2721" stroke="#a08078" stroke-width="1"/>
<circle cx="1111.5" cy="80.8" r="15.6" fill="none" stroke="#7a463e" stroke-width="0.8"/>
<text x="1111.5" y="81" text-anchor="middle" font-size="8.8" font-weight="bold" fill="#f2ece8">MDL</text>
<g font-weight="bold" fill="#f4f4f4" text-anchor="middle">
<circle cx="1095.5" cy="118.6" r="12" fill="#245960" stroke="#6a969b" stroke-width="1"/>
<circle cx="1119.9" cy="115.8" r="12" fill="#245960" stroke="#6a969b" stroke-width="1"/>
<circle cx="1111.5" cy="129.6" r="12" fill="#245960" stroke="#6a969b" stroke-width="1"/>
<text x="1094" y="119" font-size="13">€</text><text x="1122" y="114.5" font-size="13">¥</text><text x="1111.5" y="130" font-size="13.5">$</text>
</g>
<circle cx="1118.2" cy="166.8" r="15" fill="#b9b9b9" stroke="#a0a0a0" stroke-width="1.2"/>
<text x="1119" y="166" text-anchor="middle" font-size="17" fill="#f3f3f3">$</text>
<circle cx="1099.6" cy="176.5" r="16" fill="#ababab" stroke="#c6c6c6" stroke-width="1.2"/>
<text x="1098" y="176.5" text-anchor="middle" font-size="8" font-weight="bold" fill="#f3f3f3">MDL</text>
<g fill="none" stroke="#8d8d8d" stroke-width="1.6"><ellipse cx="1110" cy="182" rx="3.5" ry="2" transform="rotate(-45 1110 182)"/><ellipse cx="1114" cy="178" rx="3.5" ry="2" transform="rotate(-45 1114 178)"/></g>
<g stroke="#777" stroke-width="0.9" fill="none">
<path d="M1131.7,80.5 H1150 M1146.5,77.5 L1150.5,80.5 L1146.5,83.5"/>
<path d="M1133.7,121.3 H1151 M1147.5,118.3 L1151.5,121.3 L1147.5,124.3"/>
<path d="M1136.1,169.6 H1153 M1149.5,166.6 L1153.5,169.6 L1149.5,172.6"/>
</g>
<text x="1161.4" y="83.3" font-size="13" fill="#111" stroke="#111" stroke-width="0.25" textLength="121.2" lengthAdjust="spacingAndGlyphs">MDL 3,035.2 million</text>
<text x="1287.7" y="82.5" font-size="14" fill="#2c7a2c" stroke="#2c7a2c" stroke-width="0.35" textLength="58.3" lengthAdjust="spacingAndGlyphs">(+15.3%)</text>
<text x="1158.3" y="120.5" font-size="13" fill="#111" stroke="#111" stroke-width="0.25" textLength="118.9" lengthAdjust="spacingAndGlyphs">MDL 1,824.5 million</text>
<text x="1282.6" y="119.5" font-size="14" fill="#2c7a2c" stroke="#2c7a2c" stroke-width="0.35" textLength="59.4" lengthAdjust="spacingAndGlyphs">(+28.1%)</text>
<text x="1158.3" y="168.7" font-size="13" fill="#111" stroke="#111" stroke-width="0.25" textLength="102.9" lengthAdjust="spacingAndGlyphs">MDL 65.5 million</text>
<text x="1266" y="168" font-size="14" fill="#2c7a2c" stroke="#2c7a2c" stroke-width="0.35" textLength="57.5" lengthAdjust="spacingAndGlyphs">(+13.1%)</text>

<!-- ============ RIGHT: SUNBURST ============ -->
<g transform="translate(1188,390) scale(1.08,1)" stroke="#fafafa" stroke-width="1">
<path d="M-45.5,-78.81 A91,91 0 1 1 0,91 L0,64 A64,64 0 1 0 -32,-55.43 Z" fill="#8a9c7e"/>
<path d="M-45.5,-78.81 L-61.5,-106.52 A123,123 0 0 1 122.38,-12.34 L90.54,-9.13 A91,91 0 0 0 -45.5,-78.81 Z" fill="#a5aa8a"/>
<path d="M90.54,-9.13 L122.38,-12.34 A123,123 0 0 1 118.63,32.5 L87.76,24.04 A91,91 0 0 0 90.54,-9.13 Z" fill="#7e7f62"/>
<path d="M87.76,24.04 L118.63,32.5 A123,123 0 0 1 101.93,68.85 L75.41,50.94 A91,91 0 0 0 87.76,24.04 Z" fill="#857868"/>
<path d="M75.41,50.94 L101.93,68.85 A123,123 0 0 1 81.26,92.33 L60.12,68.31 A91,91 0 0 0 75.41,50.94 Z" fill="#866a68"/>
<path d="M60.12,68.31 L81.26,92.33 A123,123 0 0 1 62.99,105.65 L46.6,78.16 A91,91 0 0 0 60.12,68.31 Z" fill="#65514f"/>
<path d="M46.6,78.16 L62.99,105.65 A123,123 0 0 1 45.35,114.33 L33.56,84.59 A91,91 0 0 0 46.6,78.16 Z" fill="#4e3d3e"/>
<path d="M33.56,84.59 L45.35,114.33 A123,123 0 0 1 26.54,120.1 L19.64,88.86 A91,91 0 0 0 33.56,84.59 Z" fill="#3a4a3c"/>
<path d="M19.64,88.86 L26.54,120.1 A123,123 0 0 1 7.77,122.75 L5.75,90.82 A91,91 0 0 0 19.64,88.86 Z" fill="#152e16"/>
<path d="M5.75,90.82 L7.77,122.75 A123,123 0 0 1 -3,123 L-3,91 A91,91 0 0 0 5.75,90.82 Z" fill="#0f2410"/>
</g>
<polygon points="1141.4,314.3 1120.8,335.8 1145.6,353.4 1156.6,336.9" fill="url(#hatch)"/>
<g stroke="#a8a8a8" stroke-width="0.8" fill="none">
<path d="M1348,320.3 L1240,289.5"/>
<path d="M1354,338.3 L1303.2,398.9"/>
<path d="M1354,357.9 L1293,434.7"/>
<path d="M1356,376.9 L1274.8,460.7"/>
<path d="M1354,397 L1256.1,476.5"/>
<path d="M1355,417.1 L1239.1,486"/>
<path d="M1352,436.4 L1221.9,492.3"/>
<path d="M1349,462 L1204.2,496"/>
<path d="M1354,496.3 L1191,497.6"/>
</g>
<text x="1226" y="321.2" text-anchor="middle" font-size="12.5" fill="#1f3d1c" stroke="#1f3d1c" stroke-width="0.25" textLength="36.5" lengthAdjust="spacingAndGlyphs">61.5%</text>
<text x="1139" y="336.6" text-anchor="middle" font-size="12.5" fill="#1f3d1c" stroke="#1f3d1c" stroke-width="0.25" textLength="29.7" lengthAdjust="spacingAndGlyphs">5.2%</text>
<text x="1203.9" y="360.6" text-anchor="middle" font-size="12.5" fill="#1f3d1c" stroke="#1f3d1c" stroke-width="0.25" textLength="66" lengthAdjust="spacingAndGlyphs">businesses</text>
<text x="1203.9" y="376.9" text-anchor="middle" font-size="12.5" fill="#1f3d1c" textLength="29.4" lengthAdjust="spacingAndGlyphs">MDL</text>
<text x="1202.1" y="396.9" text-anchor="middle" font-size="16" font-weight="bold" fill="#1f3d1c" textLength="54.7" lengthAdjust="spacingAndGlyphs">4 925.2</text>
<text x="1199.6" y="417.1" text-anchor="middle" font-size="12.5" fill="#1f3d1c" stroke="#1f3d1c" stroke-width="0.25" textLength="41.5" lengthAdjust="spacingAndGlyphs">million</text>
<g font-size="13" fill="#222" stroke="#222" stroke-width="0.15">
<text x="1349.5" y="320.3" textLength="37" lengthAdjust="spacingAndGlyphs">33.6%</text>
<text x="1397.8" y="320.3" textLength="35.5" lengthAdjust="spacingAndGlyphs">Trade</text>
<text x="1356.2" y="338.3" textLength="30" lengthAdjust="spacingAndGlyphs">6.2%</text>
<text x="1396.8" y="338.3" textLength="98.6" lengthAdjust="spacingAndGlyphs">Energy industry</text>
<text x="1356.2" y="357.9" textLength="30" lengthAdjust="spacingAndGlyphs">5.5%</text>
<text x="1397.4" y="357.9" textLength="86.4" lengthAdjust="spacingAndGlyphs">Food industry</text>
<text x="1357.9" y="376.9" textLength="30" lengthAdjust="spacingAndGlyphs">4.3%</text>
<text x="1399.4" y="376.9" textLength="70.2" lengthAdjust="spacingAndGlyphs">Agriculture</text>
<text x="1356.2" y="397" textLength="30" lengthAdjust="spacingAndGlyphs">3.1%</text>
<text x="1395.7" y="397" textLength="123.2" lengthAdjust="spacingAndGlyphs">Productive industry</text>
<text x="1357.9" y="417.1" textLength="30" lengthAdjust="spacingAndGlyphs">2.7%</text>
<text x="1397.8" y="417.1" textLength="50.6" lengthAdjust="spacingAndGlyphs">Services</text>
<text x="1354.5" y="436.4" textLength="30" lengthAdjust="spacingAndGlyphs">2.7%</text>
<text x="1394.4" y="436.4" textLength="86.8" lengthAdjust="spacingAndGlyphs">Constructions</text>
<text x="1354.5" y="454.4" textLength="30" lengthAdjust="spacingAndGlyphs">2.6%</text>
<text x="1395.7" y="454.4" textLength="88.1" lengthAdjust="spacingAndGlyphs">Transport and</text>
<text x="1354.5" y="471" textLength="126.6" lengthAdjust="spacingAndGlyphs">telecommunications</text>
<text x="1355.5" y="488.6" textLength="30" lengthAdjust="spacingAndGlyphs">0.9%</text>
<text x="1396.8" y="488.6" textLength="138.4" lengthAdjust="spacingAndGlyphs">Other loans (including</text>
<text x="1355.5" y="505.1" textLength="105.7" lengthAdjust="spacingAndGlyphs">financial leasing)</text>
</g>
<rect x="1138.5" y="546.6" width="7.5" height="7.5" fill="#9dbb5c"/>
<text x="1149.6" y="550.6" font-size="13" fill="#111" stroke="#111" stroke-width="0.2" textLength="140.7" lengthAdjust="spacingAndGlyphs">non-profit institutions</text>
<rect x="1138.5" y="571.4" width="7.5" height="7.5" fill="url(#hatch)"/>
<text x="1149.6" y="575.4" font-size="13" fill="#111" stroke="#111" stroke-width="0.2" textLength="178" lengthAdjust="spacingAndGlyphs">non-banking financial sector</text>
<rect x="1138.5" y="596.9" width="7.5" height="7.5" fill="#8a9c7e"/>
<text x="1149.6" y="600.9" font-size="13" fill="#111" stroke="#111" stroke-width="0.2" textLength="227.5" lengthAdjust="spacingAndGlyphs">non-financial commercial companies</text>

<!-- ============ RIGHT: INTEREST RATES ============ -->
<rect x="1095.6" y="741.6" width="216.1" height="160.5" fill="#fbfbfb" stroke="#e0e0e0" stroke-width="1"/>
<rect x="1315.7" y="741.6" width="226.2" height="160.5" fill="#fbfbfb" stroke="#e0e0e0" stroke-width="1"/>
<g stroke="#ececec" stroke-width="0.8" stroke-dasharray="2 2">
<path d="M1112.5,750.4 H1303.9 M1112.5,793.9 H1303.9 M1112.5,838 H1303.9"/>
<path d="M1327.9,797.3 H1532.1 M1327.9,839.5 H1532.1"/>
</g>
<circle cx="1071" cy="778.9" r="17.5" fill="#5b2721" stroke="#a08078" stroke-width="1"/>
<circle cx="1071" cy="778.9" r="15.6" fill="none" stroke="#7a463e" stroke-width="0.8"/>
<text x="1071" y="779.1" text-anchor="middle" font-size="8.8" font-weight="bold" fill="#f2ece8">MDL</text>
<circle cx="1079.4" cy="814.7" r="14" fill="#b9b9b9" stroke="#a0a0a0" stroke-width="1.2"/>
<text x="1080" y="814" text-anchor="middle" font-size="16" fill="#f3f3f3">$</text>
<circle cx="1059.1" cy="824.4" r="16" fill="#ababab" stroke="#c6c6c6" stroke-width="1.2"/>
<text x="1057.5" y="824.4" text-anchor="middle" font-size="8" font-weight="bold" fill="#f3f3f3">MDL</text>
<g fill="none" stroke="#8d8d8d" stroke-width="1.6"><ellipse cx="1069" cy="830" rx="3.5" ry="2" transform="rotate(-45 1069 830)"/><ellipse cx="1073" cy="826" rx="3.5" ry="2" transform="rotate(-45 1073 826)"/></g>
<g font-weight="bold" fill="#f4f4f4" text-anchor="middle">
<circle cx="1059.1" cy="867.1" r="12" fill="#245960" stroke="#6a969b" stroke-width="1"/>
<circle cx="1081" cy="864.9" r="12" fill="#245960" stroke="#6a969b" stroke-width="1"/>
<circle cx="1072.7" cy="878.1" r="12" fill="#245960" stroke="#6a969b" stroke-width="1"/>
<text x="1057.5" y="867.5" font-size="13">€</text><text x="1083" y="863.5" font-size="13">¥</text><text x="1072.7" y="878.6" font-size="13.5">$</text>
</g>
<line x1="1112.5" y1="882.2" x2="1303.9" y2="882.2" stroke="#888" stroke-width="1"/>
<path d="M1112.5,882.2 V878.5 M1176.3,882.2 V878.5 M1240.1,882.2 V878.5 M1303.9,882.2 V878.5" stroke="#888" stroke-width="1"/>
<g font-size="9.5" fill="#555" text-anchor="middle">
<text x="1112.5" y="894.6">4.0</text><text x="1176.3" y="894.6">5.0</text><text x="1240.1" y="894.6">6.0</text><text x="1303.9" y="894.6">7.0</text>
</g>
<line x1="1215" y1="822.7" x2="1205" y2="822.7" stroke="#a52a2a" stroke-width="1.6"/>
<polygon points="1202,822.7 1206.5,819.8 1206.5,825.6" fill="#a52a2a"/>
<circle cx="1198.6" cy="822.7" r="3.4" fill="#2e7b3e"/><circle cx="1218.4" cy="822.7" r="3.4" fill="#b5343a"/>
<circle cx="1220.4" cy="871.2" r="3.4" fill="#b5343a"/><circle cx="1215.9" cy="871.2" r="3.4" fill="#2e7b3e"/>
<g font-size="12" fill="#444">
<text x="1166.5" y="822.1" font-size="13.5" textLength="24.3" lengthAdjust="spacingAndGlyphs">5.35</text>
<text x="1224.1" y="823.8" textLength="21.9" lengthAdjust="spacingAndGlyphs">5.66</text>
<text x="1184.7" y="869.3" font-size="13.5" textLength="24.6" lengthAdjust="spacingAndGlyphs">5.62</text>
<text x="1227.1" y="872.1" textLength="21.9" lengthAdjust="spacingAndGlyphs">5.69</text>
</g>
<rect x="1325.1" y="745.2" width="217.7" height="18.5" fill="none" stroke="#d0d0d0" stroke-width="0.8"/>
<circle cx="1349.7" cy="753.5" r="3" fill="#b5343a"/>
<text x="1356.5" y="753.5" font-size="11.5" fill="#555" textLength="77.7" lengthAdjust="spacingAndGlyphs">February 2025</text>
<circle cx="1457.6" cy="753.5" r="3" fill="#2e7b3e"/>
<text x="1464.4" y="753.5" font-size="11.5" fill="#555" textLength="61.8" lengthAdjust="spacingAndGlyphs">March 2025</text>
<line x1="1327.9" y1="882.2" x2="1532.1" y2="882.2" stroke="#888" stroke-width="1"/>
<path d="M1327.9,882.2 V878.5 M1430,882.2 V878.5 M1532.1,882.2 V878.5" stroke="#888" stroke-width="1"/>
<g font-size="9.5" fill="#555" text-anchor="middle">
<text x="1327.9" y="895.5">7.0</text><text x="1430" y="895.5">8.0</text><text x="1532.1" y="895.5">9.0</text>
</g>
<line x1="1425" y1="778.9" x2="1431" y2="778.9" stroke="#2e7b3e" stroke-width="1.6"/>
<polygon points="1434,778.9 1429.5,776 1429.5,781.8" fill="#2e7b3e"/>
<circle cx="1421.8" cy="778.9" r="3.4" fill="#b5343a"/><circle cx="1437.2" cy="778.9" r="3.4" fill="#2e7b3e"/>
<text x="1395.8" y="778.5" font-size="12" fill="#444" textLength="21.3" lengthAdjust="spacingAndGlyphs">7.92</text>
<text x="1442.9" y="780" font-size="14.5" fill="#444" textLength="25.3" lengthAdjust="spacingAndGlyphs">8.07</text>
<text x="1046.3" y="915.9" font-size="11" fill="#111" stroke="#111" stroke-width="0.15" textLength="201.8" lengthAdjust="spacingAndGlyphs">* as compared to the previous month</text>
<text x="1046.3" y="930.5" font-size="11" fill="#111" stroke="#111" stroke-width="0.15" textLength="307.5" lengthAdjust="spacingAndGlyphs">**weights are calculated as a ratio of total loans granted</text>
</svg>
</body></html>
